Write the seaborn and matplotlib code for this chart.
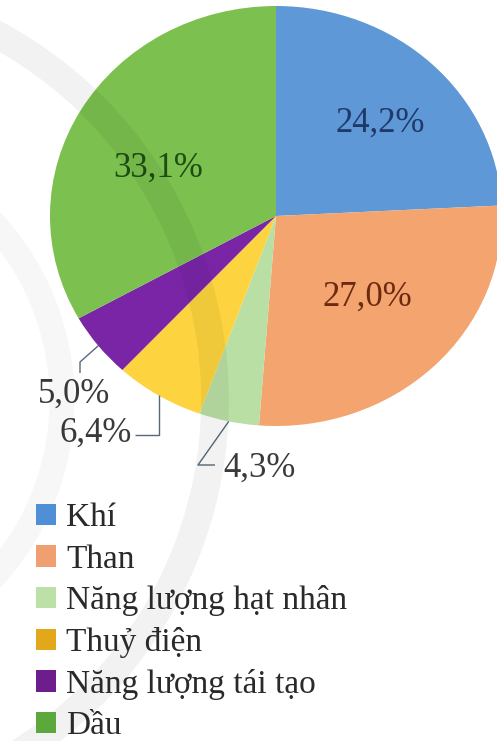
import numpy as np
import matplotlib
matplotlib.use("Agg")
import matplotlib.pyplot as plt
from matplotlib.patches import Patch, Circle
import seaborn as sns

# Energy mix shares (%)
categories = ["Khí", "Than", "Năng lượng hạt nhân", "Thuỷ điện", "Năng lượng tái tạo", "Dầu"]
shares = [24.2, 27.0, 4.3, 6.4, 5.0, 33.1]
share_labels = ["24,2%", "27,0%", "4,3%", "6,4%", "5,0%", "33,1%"]

wedge_colors = sns.color_palette(["#5E98D6", "#F4A46E", "#B9DFA4", "#FDD43F", "#7A25A6", "#7CC04F"])
legend_colors = sns.color_palette(["#4F8FD6", "#F0A070", "#BCE0A6", "#E3A71B", "#6E1E8C", "#5DA83C"])
inner_text_colors = {0: "#1F3A6A", 1: "#6B2A10", 5: "#1E4D12"}

sns.set_theme(style="white")
plt.rcParams["font.family"] = ["Liberation Serif", "DejaVu Serif"]

W, H = 497, 741
fig = plt.figure(figsize=(W / 100, H / 100), dpi=100)
fig.patch.set_facecolor("white")

# pie area in pixel units (slightly wider than tall)
cx, cy, rx, ry = 276, 216, 226, 210
ax = fig.add_axes([(cx - rx) / W, (H - (cy + ry)) / H, 2 * rx / W, 2 * ry / H])


def to_data(px, py):
    return (px - cx) / rx, (cy - py) / ry


wedges, _ = ax.pie(shares, colors=wedge_colors, startangle=90, counterclock=False,
                   radius=1.0, wedgeprops=dict(linewidth=0))
ax.set_aspect("auto")
ax.set_xlim(-1, 1)
ax.set_ylim(-1, 1)
ax.axis("off")

mids = {i: np.deg2rad((w.theta1 + w.theta2) / 2) for i, w in enumerate(wedges)}

# labels inside the large wedges: (radius, angle shift in degrees)
inner_pos = {0: (0.64, -2.5), 1: (0.56, 2.0), 5: (0.57, 7.0)}
for i, (r, shift) in inner_pos.items():
    a = mids[i] + np.deg2rad(shift)
    ax.text(r * np.cos(a), r * np.sin(a), share_labels[i], ha="center", va="center",
            fontsize=25, color=inner_text_colors[i])

# small wedges: leader lines with bends, then label
line_kw = dict(color="#56697C", lw=1.0, clip_on=False, solid_capstyle="butt")
outer = {
    2: dict(bends=[(198, 465), (215, 465)], text=(223, 468), ha="left"),
    3: dict(bends=[None, (135, 435)], text=(132, 433), ha="right"),
    4: dict(bends=[(80, 362), (80, 373)], text=(74, 394), ha="center"),
}
for i, spec in outer.items():
    sx, sy = np.cos(mids[i]), np.sin(mids[i])
    xs, ys = [sx], [sy]
    for b in spec["bends"]:
        if b is None:
            # vertical drop to the level of the horizontal segment
            _, by = to_data(0, spec["bends"][1][1])
            xs.append(sx)
            ys.append(by)
        else:
            bx, by = to_data(*b)
            xs.append(bx)
            ys.append(by)
    ax.plot(xs, ys, **line_kw)
    tx, ty = to_data(*spec["text"])
    ax.text(tx, ty, share_labels[i], ha=spec["ha"], va="center", fontsize=25,
            color="#3A3A3A", clip_on=False)

# legend
handles = [Patch(facecolor=c, edgecolor="none") for c in legend_colors]
fig.legend(handles, categories, loc="upper left",
           bbox_to_anchor=(36 / W, 1 - 503 / H), frameon=False,
           fontsize=24, handlelength=0.6, handleheight=0.6, handletextpad=0.3,
           labelspacing=0.32, borderpad=0, borderaxespad=0, labelcolor="#2A2A2A")

# faint background arcs of the page
ov = fig.add_axes([0, 0, 1, 1], zorder=5)
ov.set_xlim(0, W)
ov.set_ylim(H, 0)
ov.axis("off")
ov.patch.set_alpha(0)
for rad, lw, a in [(415, 20, 0.05), (262, 18, 0.03)]:
    ov.add_patch(Circle((-200, 400), rad, fill=False, edgecolor=(0, 0, 0, a), lw=lw))

fig.savefig("out.png", dpi=100, facecolor="white")
